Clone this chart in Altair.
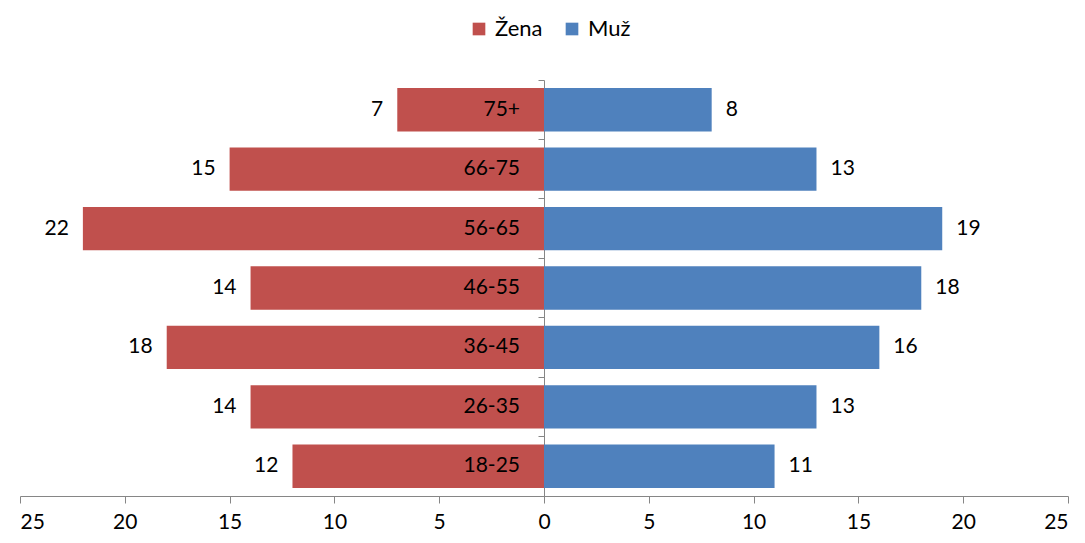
import altair as alt
import pandas as pd

ages = ["75+", "66-75", "56-65", "46-55", "36-45", "26-35", "18-25"]
zena = [7, 15, 22, 14, 18, 14, 12]
muz = [8, 13, 19, 18, 16, 13, 11]
sexes = ["Žena", "Muž"]
colors = ["#C0504D", "#4F81BD"]

rows = []
for a, z, m in zip(ages, zena, muz):
    rows.append({"age": a, "sex": "Žena", "value": -z, "abs": z})
    rows.append({"age": a, "sex": "Muž", "value": m, "abs": m})
df = pd.DataFrame(rows)

W, H = 1048, 416
FONT = "Lato"

x = alt.X(
    "value:Q",
    scale=alt.Scale(domain=[-25, 25], nice=False, zero=False),
    axis=alt.Axis(
        values=list(range(-25, 26, 5)),
        labelExpr="abs(datum.value)",
        grid=False, title=None,
        domainColor="#868686", tickColor="#868686", tickSize=7,
        labelFontSize=21, labelPadding=8, labelFont=FONT, labelColor="#000000",
    ),
)
y = alt.Y(
    "age:N", sort=ages,
    scale=alt.Scale(paddingInner=0, paddingOuter=0),
    axis=alt.Axis(
        title=None, labels=False, bandPosition=0, offset=-(W / 2),
        domainColor="#868686", tickColor="#868686", tickSize=6,
    ),
)

base = alt.Chart(df)

bars = base.mark_bar(height={"band": 0.73}).encode(
    x=x, y=y,
    color=alt.Color(
        "sex:N",
        scale=alt.Scale(domain=sexes, range=colors),
        legend=alt.Legend(
            title=None, orient="none", legendX=448, legendY=-62,
            direction="horizontal", symbolType="square", symbolSize=160,
            symbolStrokeWidth=0, labelFontSize=22, labelFont=FONT,
            columnPadding=18, labelOffset=5,
        ),
    ),
)

lab_z = base.transform_filter("datum.sex == 'Žena'").mark_text(
    align="right", baseline="middle", dx=-14, fontSize=21, font=FONT, color="#000000"
).encode(x="value:Q", y=alt.Y("age:N", sort=ages), text="abs:Q")

lab_m = base.transform_filter("datum.sex == 'Muž'").mark_text(
    align="left", baseline="middle", dx=14, fontSize=21, font=FONT, color="#000000"
).encode(x="value:Q", y=alt.Y("age:N", sort=ages), text="abs:Q")

lab_cat = base.transform_filter("datum.sex == 'Žena'").mark_text(
    align="right", baseline="middle", dx=-24, fontSize=21, font=FONT, color="#000000"
).encode(x=alt.datum(0), y=alt.Y("age:N", sort=ages), text="age:N")

chart = alt.layer(bars, lab_z, lab_m, lab_cat).properties(
    width=W, height=H,
    background="white",
    autosize=alt.AutoSizeParams(type="none"),
    padding={"left": 12, "top": 72, "right": 5, "bottom": 38},
).configure_view(stroke=None)

chart.save("out.html", embed_options={"renderer": "svg", "actions": False})
